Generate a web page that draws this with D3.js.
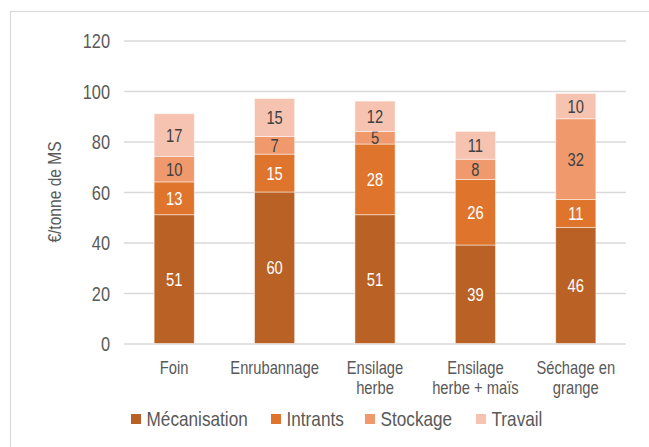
<!DOCTYPE html>
<html>
<head>
<meta charset="utf-8">
<script src="https://cdn.jsdelivr.net/npm/d3@7"></script>
<style>
  body { margin: 0; background: #fff; }
  svg text { font-family: "Liberation Sans Narrow", "Arial Narrow", "Liberation Sans", Arial, sans-serif; }
</style>
</head>
<body>
<div id="chart"></div>
<script>
// data
var categories = [["Foin"], ["Enrubannage"], ["Ensilage", "herbe"], ["Ensilage", "herbe + maïs"], ["Séchage en", "grange"]]
var seriesNames = ["Mécanisation", "Intrants", "Stockage", "Travail"]
var mecanisation = [51, 60, 51, 39, 46]
var intrants = [13, 15, 28, 26, 11]
var stockage = [10, 7, 5, 8, 32]
var travail = [17, 15, 12, 11, 10]
var yTicks = [0, 20, 40, 60, 80, 100, 120]

var colors = ["#BA6225", "#DF752D", "#F0996D", "#F6C3B1"]
var labelColors = ["#ffffff", "#ffffff", "#404040", "#404040"]

var width = 649, height = 447
var margin = {top: 40.5, right: 23, bottom: 103.5, left: 124}
// no narrow font installed, so squeeze the regular one
var sx = 0.82

var svg = d3.select("#chart")
  .append("svg")
  .attr("width", width)
  .attr("height", height)

// frame
svg.append("rect")
  .attr("x", 10.5).attr("y", 11.5)
  .attr("width", width + 20).attr("height", height + 20)
  .style("fill", "none")
  .style("stroke", "#D9D9D9")
  .style("stroke-width", 1.2)

var rows = categories.map(function(c, i) {
  return {cat: c, i: i, "Mécanisation": mecanisation[i], "Intrants": intrants[i], "Stockage": stockage[i], "Travail": travail[i]}
})

var xScale = d3.scaleBand()
  .domain(d3.range(categories.length))
  .range([margin.left, width - margin.right])
  .paddingInner(0.6)
  .paddingOuter(0.3)

var yScale = d3.scaleLinear()
  .domain([0, 120])
  .range([height - margin.bottom, margin.top])

// Y grid
svg.append("g")
  .attr("transform", `translate(${margin.left},0)`)
  .call(d3.axisLeft(yScale).tickValues(yTicks).tickSize(-(width - margin.left - margin.right)).tickFormat(""))
  .call(g => g.select(".domain").remove())
  .selectAll("line")
  .style("stroke", "#D9D9D9")
  .style("stroke-width", 1.5)

// Y axis labels
svg.append("g")
  .attr("transform", `translate(${margin.left - 14},0)`)
  .call(d3.axisLeft(yScale).tickValues(yTicks).tickSize(0).tickPadding(0))
  .call(g => g.select(".domain").remove())
  .selectAll("text")
  .attr("x", 0)
  .attr("transform", `scale(${sx},1)`)
  .style("font-size", "20px")
  .style("fill", "#595959")
  .attr("dy", "0.35em")

svg.append("text")
  .attr("transform", `translate(61,${yScale(60)}) rotate(-90) scale(${sx},1)`)
  .text("€/tonne de MS")
  .style("text-anchor", "middle")
  .style("font-size", "19px")
  .style("fill", "#595959")

// stacked bars
var stack = d3.stack().keys(seriesNames)
var layers = stack(rows)

var layerG = svg.selectAll(".layer")
  .data(layers)
  .enter()
  .append("g")
  .attr("class", "layer")
  .style("fill", (d, i) => colors[i])

layerG.selectAll("rect")
  .data(d => d)
  .enter()
  .append("rect")
  .attr("x", d => xScale(d.data.i))
  .attr("y", d => yScale(d[1]))
  .attr("width", xScale.bandwidth())
  .attr("height", d => yScale(d[0]) - yScale(d[1]))
  .style("stroke", "#ffffff")
  .style("stroke-opacity", 0.6)
  .style("stroke-width", 0.8)

layerG.selectAll("text")
  .data(d => d)
  .enter()
  .append("text")
  .attr("transform", d => `translate(${xScale(d.data.i) + xScale.bandwidth() / 2},${(yScale(d[0]) + yScale(d[1])) / 2}) scale(${sx},1)`)
  .attr("dy", "0.36em")
  .text(d => d[1] - d[0])
  .style("text-anchor", "middle")
  .style("font-size", "18px")
  .style("fill", function() { return labelColors[seriesNames.indexOf(d3.select(this.parentNode).datum().key)] })

// X labels
var xLab = svg.append("g")
  .selectAll("text")
  .data(categories)
  .enter()
  .append("text")
  .attr("transform", (d, i) => `translate(${xScale(i) + xScale.bandwidth() / 2},374) scale(${sx},1)`)
  .style("text-anchor", "middle")
  .style("font-size", "18px")
  .style("fill", "#595959")

xLab.selectAll("tspan")
  .data(d => d)
  .enter()
  .append("tspan")
  .attr("x", 0)
  .attr("dy", (d, i) => i === 0 ? 0 : 20.5)
  .text(d => d)

// legend
var legendX = [131, 271, 365, 476]
var legend = svg.selectAll(".legend")
  .data(seriesNames)
  .enter()
  .append("g")
  .attr("class", "legend")
  .attr("transform", (d, i) => `translate(${legendX[i]},414)`)

legend.append("rect")
  .attr("width", 10)
  .attr("height", 10)
  .style("fill", (d, i) => colors[i])

legend.append("text")
  .attr("transform", `translate(15.5,12) scale(0.86,1)`)
  .text(d => d)
  .style("font-size", "20px")
  .style("fill", "#595959")
</script>
</body>
</html>
